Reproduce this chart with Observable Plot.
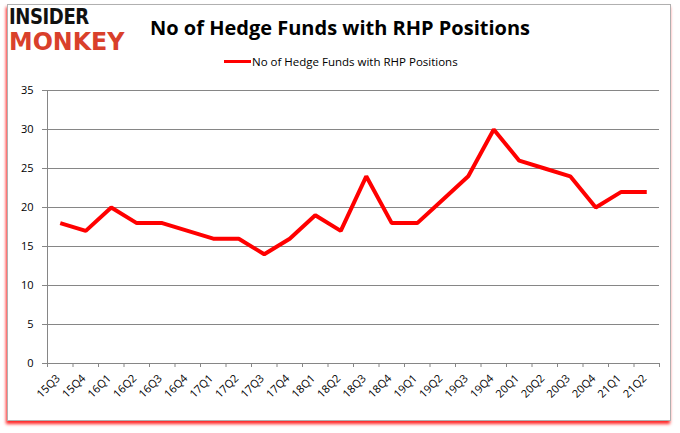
<!DOCTYPE html>
<html>
<head>
<meta charset="utf-8">
<script src="https://cdn.jsdelivr.net/npm/d3@7"></script>
<script src="https://cdn.jsdelivr.net/npm/@observablehq/plot@0.6"></script>
<style>
  html, body { margin: 0; padding: 0; background: #fff; }
  #wrap { position: relative; width: 680px; height: 433px; overflow: hidden; background: #fff; }
  #frame { position: absolute; left: 7px; top: 4px; width: 662px; height: 415px; border: 1px solid #b0b0b0; background: #fff; box-shadow: -1px 3px 3px rgba(255,0,0,0.85); }
  #chart { position: absolute; left: 0; top: 0; }
  #chart svg { background: transparent !important; }
  .logo { position: absolute; left: 9px; font-family: "DejaVu Sans", sans-serif; font-weight: 900; line-height: 1; }
  #logo1 { top: 7px; font-size: 21px; color: #111; letter-spacing: -0.5px; transform: scaleX(0.86); transform-origin: left top; }
  #logo2 { top: 29px; font-size: 25px; color: #d9402b; letter-spacing: 0px; transform: scaleX(0.95); transform-origin: left top; }
  #title { position: absolute; left: 0; width: 680px; top: 14px; text-align: center; font-family: "Open Sans", sans-serif; font-weight: bold; font-size: 20px; color: #000; }
  #legend { position: absolute; left: 224px; top: 54px; font-family: "Open Sans", sans-serif; font-size: 11.5px; color: #000; display: flex; align-items: center; }
  #legend .sw { width: 27px; height: 3px; background: #ff0000; margin-right: 1px; }
</style>
</head>
<body>
<div id="wrap">
  <div id="frame"></div>
  <div id="chart"></div>
  <div class="logo" id="logo1">INSIDER</div>
  <div class="logo" id="logo2">MONKEY</div>
  <div id="title">No of Hedge Funds with RHP Positions</div>
  <div id="legend"><span class="sw"></span><span>No of Hedge Funds with RHP Positions</span></div>
</div>
<script>
const quarters = ["15Q3","15Q4","16Q1","16Q2","16Q3","16Q4","17Q1","17Q2","17Q3","17Q4","18Q1","18Q2","18Q3","18Q4","19Q1","19Q2","19Q3","19Q4","20Q1","20Q2","20Q3","20Q4","21Q1","21Q2"];
const funds = [18,17,20,18,18,17,16,16,14,16,19,17,24,18,18,21,24,30,26,25,24,20,22,22];
const yTicks = [0,5,10,15,20,25,30,35];

const data = quarters.map((q, i) => ({i, q, v: funds[i]}));
const idx = quarters.map((q, i) => i);
const bounds = [-0.5, ...idx.map(i => i + 0.5)];
const xDomain = [bounds[0], bounds[bounds.length - 1]];

const chart = Plot.plot({
  width: 680,
  height: 433,
  marginLeft: 47,
  marginRight: 21,
  marginTop: 90,
  marginBottom: 70,
  style: { background: "transparent", fontFamily: "'Open Sans', sans-serif", fontSize: "11px", color: "#000" },
  x: { type: "linear", domain: xDomain, axis: null },
  y: { domain: [0, 35], axis: null },
  marks: [
    Plot.ruleY(yTicks, { stroke: "#868686", strokeWidth: 1 }),
    Plot.ruleX([xDomain[0]], { stroke: "#868686", strokeWidth: 1 }),
    Plot.axisY({ ticks: yTicks, tickSize: 5, tickPadding: 9, stroke: "#868686", fontSize: 11, fill: "#000", label: null }),
    Plot.axisX({ ticks: bounds, tickSize: 4, tickFormat: () => "", stroke: "#868686", label: null }),
    Plot.axisX({ ticks: idx, tickSize: 0, tickRotate: -45, tickPadding: 13, dx: -2, tickFormat: i => quarters[i], fontSize: 11, fill: "#000", label: null }),
    Plot.line(data, { x: "i", y: "v", stroke: "#ff0000", strokeWidth: 4, strokeLinejoin: "miter", strokeLinecap: "butt" })
  ]
});
document.getElementById("chart").appendChild(chart);
</script>
</body>
</html>
